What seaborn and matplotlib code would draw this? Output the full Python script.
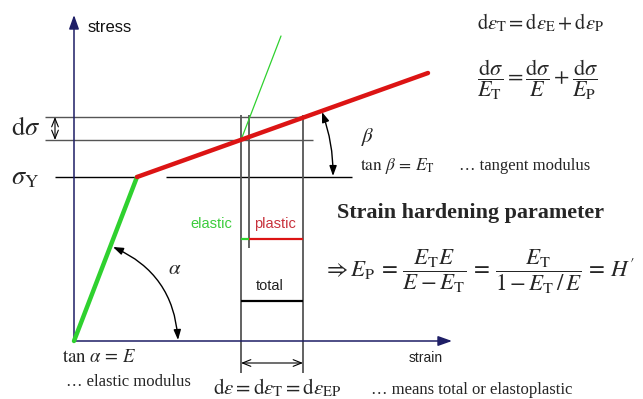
import matplotlib
matplotlib.use("Agg")
import matplotlib.pyplot as plt
import seaborn as sns

sns.set_theme(style="white")
plt.rcParams["font.family"] = ["Liberation Sans", "DejaVu Sans"]
plt.rcParams["mathtext.fontset"] = "stix"

# Bilinear stress-strain curve (strain, stress in drawing units)
strain_elastic = [0, 63]
stress_elastic = [0, 164]
strain_plastic = [63, 354]
stress_plastic = [164, 268]

# Strain increment on the hardening branch: start / end
strain_increment = [167, 229]
stress_increment = [201, 224]

# Elastic reloading line through the start of the increment
strain_reload = [167, 207]
stress_reload = [201, 305]
strain_elastic_part = 175  # where the reloading line reaches sigma + d sigma

GREEN = "#2fd12f"
RED = "#dc1414"
NAVY = "#1e1e66"
GREY = "#555555"

ORIGIN = (74, 341)


def P(px, py):
    """Figure pixel position (from top-left) -> drawing units."""
    return (px - ORIGIN[0], ORIGIN[1] - py)


fig = plt.figure(figsize=(6.43, 3.99), dpi=100)
ax = fig.add_axes([0, 0, 1, 1])
ax.set_xlim(-ORIGIN[0], 643 - ORIGIN[0])
ax.set_ylim(ORIGIN[1] - 399, ORIGIN[1])
ax.set_axis_off()

# --- construction lines -------------------------------------------------
s0, s1 = stress_increment
e0, e1 = strain_increment
ax.hlines(s1, P(45, 0)[0], e1, color=GREY, lw=1.0, zorder=1)
ax.hlines(s0, P(45, 0)[0], P(313, 0)[0], color=GREY, lw=1.0, zorder=1)
ax.hlines(stress_elastic[1], P(55, 0)[0], strain_elastic[1], color="black", lw=1.0, zorder=1)
ax.hlines(stress_elastic[1], P(166, 0)[0], P(352, 0)[0], color="black", lw=1.0, zorder=1)
y_bottom = P(0, 373)[1]
ax.vlines([e0, e1], y_bottom, s1 + 2, color=GREY, lw=1.3, zorder=1)
ax.vlines(strain_elastic_part, P(0, 248)[1], s1 + 2, color=GREY, lw=1.3, zorder=1)

# elastic / plastic / total split of the increment
y_split = P(0, 239)[1]
ax.hlines(y_split, e0, strain_elastic_part, color=GREEN, lw=1.6, zorder=2)
ax.hlines(y_split, strain_elastic_part, e1, color=RED, lw=1.6, zorder=2)
ax.hlines(P(0, 301)[1], e0, e1, color="black", lw=1.6, zorder=2)

# --- axes arrows --------------------------------------------------------
ax.annotate("", xy=(0, P(0, 15)[1]), xytext=(0, 0),
            arrowprops=dict(arrowstyle="-|>,head_length=0.7,head_width=0.25",
                            color=NAVY, lw=1.1, shrinkA=0, shrinkB=0))
ax.annotate("", xy=(P(452, 0)[0], 0), xytext=(0, 0),
            arrowprops=dict(arrowstyle="-|>,head_length=0.7,head_width=0.25",
                            color=NAVY, lw=1.1, shrinkA=0, shrinkB=0))

# --- stress-strain curve --------------------------------------------------
sns.lineplot(x=strain_reload, y=stress_reload, color=GREEN, lw=0.9, ax=ax, zorder=3)
sns.lineplot(x=strain_elastic, y=stress_elastic, color=GREEN, lw=3.2, ax=ax, zorder=4)
sns.lineplot(x=strain_plastic, y=stress_plastic, color=RED, lw=3.2, ax=ax, zorder=4)

# --- dimension arrows ---------------------------------------------------
thin = dict(arrowstyle="<->,head_length=0.5,head_width=0.2", color="black",
            lw=0.8, shrinkA=0, shrinkB=0)
x_ds = P(55, 0)[0]
ax.annotate("", xy=(x_ds, s1), xytext=(x_ds, s0), arrowprops=thin)
y_de = P(0, 363)[1]
ax.annotate("", xy=(e1, y_de), xytext=(e0, y_de), arrowprops=thin)

arc = "<|-|>,head_length=0.5,head_width=0.18"
ax.annotate("", xy=P(178, 340), xytext=P(113, 247),
            arrowprops=dict(arrowstyle=arc, color="black", lw=1.0,
                            shrinkA=0, shrinkB=0,
                            connectionstyle="arc3,rad=-0.30"))
ax.annotate("", xy=P(333, 176), xytext=P(322, 112),
            arrowprops=dict(arrowstyle=arc, color="black", lw=1.0,
                            shrinkA=0, shrinkB=0,
                            connectionstyle="arc3,rad=-0.09"))

# --- labels -------------------------------------------------------------
def txt(px, py, s, size, ha="left", va="center", **kw):
    ax.text(*P(px, py), s, fontsize=size, ha=ha, va=va, **kw)


txt(88, 27, "stress", 12, color="#111111")
txt(409, 358, "strain", 10, color="#222222")
txt(211, 224, "elastic", 10.5, ha="center", color="#3ccc3c")
txt(275, 224, "plastic", 10.5, ha="center", color="#c8323c")
txt(270, 286, "total", 10.5, ha="center", color="#222222")

txt(11, 128, r"$\mathrm{d}\sigma$", 19)
txt(11, 178, r"$\sigma_{\mathrm{Y}}$", 19)
txt(168, 268, r"$\alpha$", 15)
txt(361, 137, r"$\beta$", 15)
txt(360, 166, r"$\tan\,\beta\,=\,E_{\mathrm{T}}$", 12.5)
txt(459, 166, "… tangent modulus", 12, family="Liberation Serif")
txt(62, 358, r"$\tan\,\alpha\,=\,E$", 13.5)
txt(66, 382, "… elastic modulus", 12, family="Liberation Serif")
txt(213, 388, r"$\mathrm{d}\varepsilon = \mathrm{d}\varepsilon_{\mathrm{T}}"
              r" = \mathrm{d}\varepsilon_{\mathrm{EP}}$", 15)
txt(371, 390, "… means total or elastoplastic", 12, family="Liberation Serif")

txt(477, 23, r"$\mathrm{d}\varepsilon_{\mathrm{T}} = \mathrm{d}\varepsilon_{\mathrm{E}}"
             r" + \mathrm{d}\varepsilon_{\mathrm{P}}$", 14.8)
txt(477, 80, r"$\dfrac{\mathrm{d}\sigma}{E_{\mathrm{T}}} = \dfrac{\mathrm{d}\sigma}{E}"
             r" + \dfrac{\mathrm{d}\sigma}{E_{\mathrm{P}}}$", 16)

txt(337, 213, "Strain hardening parameter", 15.9, family="Liberation Serif",
    weight="bold")
txt(323, 272, r"$\Rightarrow E_{\mathrm{P}}\,=\,\dfrac{E_{\mathrm{T}}E}{E-E_{\mathrm{T}}}"
              r"\,=\,\dfrac{E_{\mathrm{T}}}{1-E_{\mathrm{T}}\,/\,E}\,=\,H^{\prime}$", 16.6)

fig.savefig("out.png", dpi=100, facecolor="white")
